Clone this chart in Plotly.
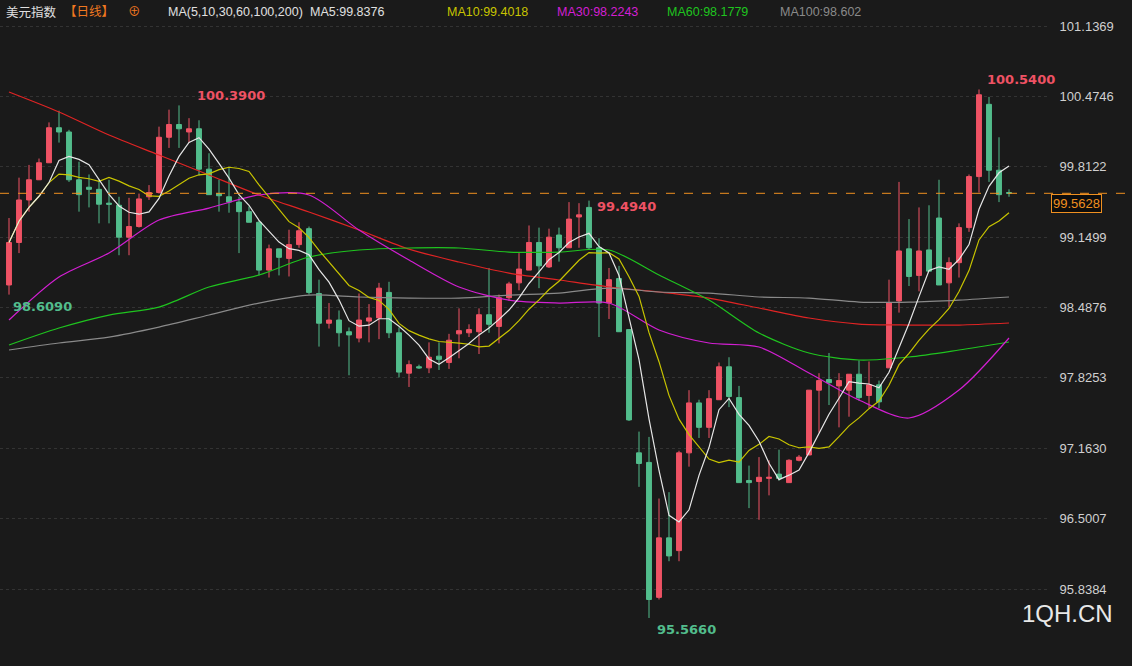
import pandas as pd
import plotly.graph_objects as go

# daily OHLC
opens = [98.70, 99.10, 99.50, 99.69, 99.85, 100.18, 100.14, 99.69, 99.62, 99.60,
         99.47, 99.45, 99.15, 99.25, 99.53, 99.57, 100.09, 100.21, 100.14, 100.17,
         99.79, 99.56, 99.53, 99.48, 99.39, 99.29, 98.84, 99.04, 98.95, 99.08,
         99.23, 98.62, 98.34, 98.37, 98.26, 98.20, 98.36, 98.39, 98.63, 98.25,
         97.87, 97.93, 97.92, 98.03, 97.97, 98.24, 98.25, 98.26, 98.42, 98.31,
         98.58, 98.72, 98.84, 99.10, 98.87, 99.17, 99.05, 99.34, 99.43, 99.05,
         98.53, 98.76, 98.28, 97.12, 97.03, 95.76, 96.32, 96.20, 97.12, 97.59,
         97.36, 97.62, 97.93, 97.64, 96.86, 96.85, 96.88, 96.92, 96.84, 97.05,
         97.10, 97.71, 97.81, 97.75, 97.71, 97.86, 97.66, 97.76, 97.92, 98.55,
         99.04, 98.79, 99.03, 99.33, 98.72, 98.91, 99.24, 99.72, 100.40, 99.78,
         99.57]
highs = [99.33, 99.71, 99.83, 99.89, 100.23, 100.34, 100.16, 99.86, 99.74, 99.69,
         99.69, 99.53, 99.52, 99.56, 99.64, 100.19, 100.35, 100.39, 100.27, 100.25,
         99.94, 99.69, 99.80, 99.53, 99.44, 99.31, 99.08, 99.04, 99.22, 99.29,
         99.25, 98.75, 98.53, 98.46, 98.30, 98.62, 98.52, 98.72, 98.73, 98.30,
         97.99, 97.95, 98.16, 98.16, 98.24, 98.48, 98.33, 98.48, 98.86, 98.61,
         98.73, 99.00, 99.26, 99.24, 99.23, 99.24, 99.48, 99.47, 99.494, 99.14,
         98.86, 98.88, 98.28, 97.32, 97.27, 96.69, 96.75, 97.14, 97.71, 97.62,
         97.71, 97.97, 98.02, 97.75, 97.00, 97.08, 97.05, 97.15, 97.06, 97.10,
         97.71, 97.87, 98.06, 97.87, 97.86, 97.99, 97.98, 97.80, 98.75, 99.67,
         99.32, 99.43, 99.45, 99.69, 98.96, 99.28, 99.74, 100.54, 100.47, 100.09,
         99.60]
lows = [98.609, 99.00, 99.39, 99.69, 99.85, 100.04, 99.67, 99.39, 99.43, 99.28,
        99.28, 98.98, 98.98, 99.24, 99.50, 99.56, 99.99, 99.99, 100.04, 99.73,
        99.55, 99.39, 99.38, 99.00, 99.29, 98.79, 98.77, 98.79, 98.78, 99.05,
        98.61, 98.12, 98.29, 98.12, 97.85, 98.16, 98.16, 98.19, 98.20, 97.83,
        97.74, 97.91, 97.87, 97.90, 97.91, 98.01, 98.21, 98.05, 98.25, 98.15,
        98.55, 98.65, 98.84, 98.67, 98.86, 98.92, 99.05, 99.05, 99.04, 98.21,
        98.38, 98.26, 97.42, 96.80, 95.566, 95.74, 96.10, 96.10, 96.99, 97.26,
        97.26, 97.62, 97.55, 96.84, 96.60, 96.49, 96.72, 96.86, 96.84, 97.04,
        97.10, 97.31, 97.57, 97.36, 97.46, 97.61, 97.54, 97.54, 97.92, 98.44,
        98.69, 98.64, 98.83, 98.70, 98.49, 98.77, 99.20, 99.57, 99.67, 99.48,
        99.53]
closes = [99.10, 99.50, 99.69, 99.85, 100.18, 100.14, 99.69, 99.55, 99.60, 99.46,
          99.46, 99.15, 99.25, 99.51, 99.57, 100.09, 100.21, 100.17, 100.17, 99.79,
          99.55, 99.54, 99.48, 99.39, 99.29, 98.84, 99.04, 98.96, 99.08, 99.21,
          98.63, 98.34, 98.37, 98.25, 98.23, 98.37, 98.39, 98.67, 98.25, 97.88,
          97.95, 97.92, 98.02, 98.00, 98.18, 98.27, 98.28, 98.42, 98.33, 98.58,
          98.71, 98.85, 99.10, 98.88, 99.15, 99.05, 99.32, 99.36, 99.05, 98.53,
          98.75, 98.26, 97.43, 97.02, 95.74, 96.32, 96.15, 97.12, 97.59, 97.36,
          97.63, 97.93, 97.65, 96.84, 96.84, 96.89, 96.89, 96.88, 97.05, 97.08,
          97.71, 97.80, 97.78, 97.80, 97.86, 97.64, 97.76, 97.60, 98.53, 99.02,
          98.78, 99.02, 98.83, 98.70, 98.91, 99.24, 99.72, 100.49, 99.78, 99.55,
          99.5628]

# longer moving averages, read every 5th day
ma_days = list(range(0, 101, 5))
ma30 = [98.370, 98.775, 99.001, 99.311, 99.424, 99.547, 99.547, 99.217, 98.935, 98.681, 98.558,
        98.530, 98.530, 98.276, 98.154, 98.116, 97.871, 97.617, 97.448, 97.711, 98.201]
ma60 = [98.135, 98.295, 98.417, 98.492, 98.681, 98.794, 98.963, 99.029, 99.048, 99.048, 99.010,
        99.010, 99.029, 98.794, 98.558, 98.248, 98.060, 97.994, 98.022, 98.088, 98.163]
ma100 = [98.088, 98.154, 98.210, 98.304, 98.417, 98.530, 98.605, 98.587, 98.577, 98.577, 98.605,
         98.624, 98.671, 98.634, 98.624, 98.587, 98.577, 98.539, 98.539, 98.558, 98.587]
ma200 = [100.516, 100.328, 100.111, 99.923, 99.735, 99.547, 99.387, 99.217, 99.038, 98.916, 98.812,
         98.747, 98.681, 98.634, 98.577, 98.483, 98.389, 98.332, 98.323, 98.323, 98.342]

tick_vals = [101.1369, 100.4746, 99.8122, 99.1499, 98.4876, 97.8253, 97.1630, 96.5007, 95.8384]
last_price = 99.5628

days = list(range(len(closes)))
s = pd.Series(closes)
ma5 = s.rolling(5, min_periods=1).mean()
ma10 = s.rolling(10, min_periods=1).mean()

RED = "#ef5264"
GREEN = "#52bd8c"
BG = "#1a1a1a"

fig = go.Figure()
fig.add_trace(go.Candlestick(
    x=days, open=opens, high=highs, low=lows, close=closes,
    increasing=dict(line=dict(color=RED, width=1), fillcolor=RED),
    decreasing=dict(line=dict(color=GREEN, width=1), fillcolor=GREEN),
    whiskerwidth=0, showlegend=False,
))
for name, xs, ys, col in [
    ("MA200", ma_days, ma200, "#e02424"),
    ("MA100", ma_days, ma100, "#8a8a8a"),
    ("MA60", ma_days, ma60, "#1fc41f"),
    ("MA30", ma_days, ma30, "#d21fd2"),
]:
    fig.add_trace(go.Scatter(x=xs, y=ys, mode="lines", name=name, showlegend=False,
                             line=dict(color=col, width=1.2, shape="spline", smoothing=0.8)))
fig.add_trace(go.Scatter(x=days, y=ma10, mode="lines", showlegend=False,
                         line=dict(color="#c8c400", width=1.2)))
fig.add_trace(go.Scatter(x=days, y=ma5, mode="lines", showlegend=False,
                         line=dict(color="#e6e6e6", width=1.2)))

# current price line
fig.add_shape(type="line", xref="paper", x0=0, x1=1.075, y0=last_price, y1=last_price,
              line=dict(color="#f09020", width=1, dash="dash"))

# high / low markers
for txt, i, v, col, dx, dy in [
    ("100.3900", 18, 100.39, RED, 6, -10),
    ("98.6090", 0, 98.609, GREEN, 2, 12),
    ("99.4940", 58, 99.494, RED, 6, 6),
    ("95.5660", 64, 95.566, GREEN, 6, 12),
    ("100.5400", 97, 100.54, RED, 6, -10),
]:
    fig.add_annotation(x=i, y=v, text="<b>" + txt + "</b>", showarrow=False, xanchor="left",
                       xshift=dx, yshift=-dy, font=dict(color=col, size=13, family="DejaVu Sans"))

W = 1048
top = 1 - 12 / 666
for txt, px, col in [
    ("美元指数", 4, "#e0e0e0"), ("【日线】", 62, "#f07820"), ("⊕", 126, "#f07820"),
    ("MA(5,10,30,60,100,200)", 166, "#e0e0e0"), ("MA5:99.8376", 308, "#e0e0e0"),
    ("MA10:99.4018", 445, "#c8c400"), ("MA30:98.2243", 555, "#d21fd2"),
    ("MA60:98.1779", 665, "#1fc41f"), ("MA100:98.602", 778, "#8a8a8a"),
]:
    fig.add_annotation(x=px / W, y=top, xref="paper", yref="paper", text=txt, showarrow=False,
                       xanchor="left", yanchor="middle",
                       font=dict(color=col, size=12.5, family="Arial, Noto Sans CJK SC"))

fig.add_annotation(x=1.003, y=last_price, xref="paper", text="99.5628", showarrow=False,
                   xanchor="left", yshift=-10, bgcolor="#0d0d0d", bordercolor="#f09020",
                   borderwidth=1, font=dict(color="#f09020", size=13))
fig.add_annotation(x=1115 / W, y=0.055, xref="paper", yref="paper", text="1QH.CN",
                   showarrow=False, xanchor="right", font=dict(color="#e8e8e8", size=24, family="Arial"))

fig.update_layout(
    width=1132, height=666,
    paper_bgcolor=BG, plot_bgcolor=BG,
    margin=dict(l=0, r=84, t=0, b=0),
    xaxis=dict(range=[-0.9, 103.9], showgrid=False, showticklabels=False,
               rangeslider=dict(visible=False), zeroline=False),
    yaxis=dict(range=[95.114, 101.382], side="right", tickvals=tick_vals,
               ticktext=[f"{v:.4f}" for v in tick_vals], showgrid=True,
               ticks="outside", ticklen=8, tickcolor=BG,
               gridcolor="#333333", griddash="dot", zeroline=False,
               tickfont=dict(color="#d0d0d0", size=13, family="Arial")),
    font=dict(family="Arial"),
)

fig.write_html("out.html", config={"displayModeBar": False})

# drop the browser's default page margin
with open("out.html", encoding="utf-8") as f:
    page = f.read()
page = page.replace("<body>", '<body style="margin:0;background:#1a1a1a">', 1)
with open("out.html", "w", encoding="utf-8") as f:
    f.write(page)
